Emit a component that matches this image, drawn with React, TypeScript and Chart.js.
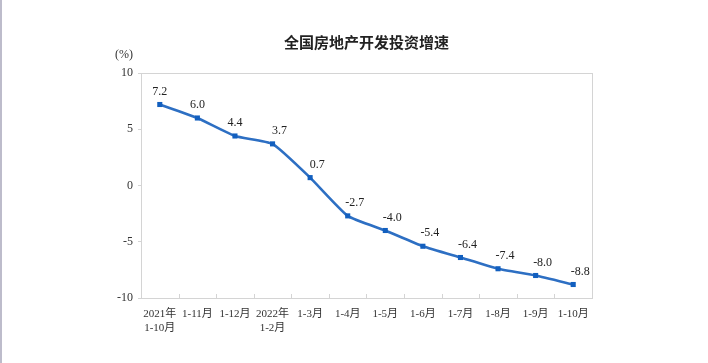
import React, { useEffect, useRef } from "react";
import { Chart, registerables } from "chart.js";

Chart.register(...registerables);

const categories: (string | string[])[] = [
  ["2021年", "1-10月"],
  "1-11月",
  "1-12月",
  ["2022年", "1-2月"],
  "1-3月",
  "1-4月",
  "1-5月",
  "1-6月",
  "1-7月",
  "1-8月",
  "1-9月",
  "1-10月",
];
const growth: number[] = [7.2, 6.0, 4.4, 3.7, 0.7, -2.7, -4.0, -5.4, -6.4, -7.4, -8.0, -8.8];
const yTicks: number[] = [-10, -5, 0, 5, 10];

const SERIF = '"Liberation Serif", "Times New Roman", "Noto Sans CJK SC", serif';
const AXIS_GREY = "#d4d4d4";

const decorPlugin = {
  id: "decor",
  beforeDatasetsDraw(chart: any) {
    const { ctx, chartArea } = chart;
    const { left, right, top, bottom } = chartArea;
    ctx.save();
    ctx.strokeStyle = AXIS_GREY;
    ctx.lineWidth = 1;
    ctx.strokeRect(Math.round(left) + 0.5, Math.round(top) + 0.5, Math.round(right - left), Math.round(bottom - top));
    // inward tick marks at category boundaries
    const xs = chart.scales.x;
    const n = categories.length;
    const w = xs.getPixelForValue(1) - xs.getPixelForValue(0);
    for (let i = 1; i < n; i++) {
      const px = Math.round(xs.getPixelForValue(i) - w / 2) + 0.5;
      ctx.beginPath();
      ctx.moveTo(px, bottom);
      ctx.lineTo(px, bottom - 4);
      ctx.stroke();
    }
    // unit label
    ctx.fillStyle = "#333";
    ctx.font = `12px ${SERIF}`;
    ctx.textAlign = "right";
    ctx.textBaseline = "middle";
    ctx.fillText("(%)", left - 8, top - 18);
    ctx.restore();
  },
  afterDatasetsDraw(chart: any) {
    const { ctx } = chart;
    const meta = chart.getDatasetMeta(0);
    ctx.save();
    ctx.fillStyle = "#222";
    ctx.font = `12px ${SERIF}`;
    ctx.textAlign = "center";
    ctx.textBaseline = "middle";
    meta.data.forEach((pt: any, i: number) => {
      const dx = i < 3 ? 0 : 7;
      ctx.fillText(growth[i].toFixed(1), pt.x + dx, pt.y - 13);
    });
    ctx.restore();
  },
};

export default function App() {
  const ref = useRef<HTMLCanvasElement | null>(null);
  useEffect(() => {
    document.body.style.margin = "0";
    if (!ref.current) return;
    const chart = new Chart(ref.current, {
      type: "line",
      data: {
        labels: categories,
        datasets: [
          {
            data: growth,
            borderColor: "#2d6fc3",
            borderWidth: 2.6,
            pointStyle: "rect",
            pointRadius: 3.6,
            pointBackgroundColor: "#125fbf",
            pointBorderColor: "#125fbf",
            pointBorderWidth: 0,
            tension: 0.15,
          },
        ],
      },
      options: {
        responsive: false,
        animation: false,
        layout: { padding: { left: 0, right: 116, top: 0, bottom: 0 } },
        plugins: {
          legend: { display: false },
          tooltip: { enabled: false },
          title: {
            display: true,
            text: "全国房地产开发投资增速",
            fullSize: false,
            color: "#222",
            font: { family: '"Noto Sans CJK SC", sans-serif', size: 15, weight: "bold", lineHeight: 1.2 },
            padding: { top: 33, bottom: 22 },
          },
        },
        scales: {
          x: {
            type: "category",
            offset: true,
            afterFit: (s: any) => {
              s.height = 65;
            },
            grid: { display: false, drawTicks: false },
            border: { display: true, color: AXIS_GREY },
            ticks: {
              color: "#333",
              padding: 9,
              autoSkip: false,
              maxRotation: 0,
              font: { family: SERIF, size: 11, lineHeight: 1.25 },
            },
          },
          y: {
            min: -10,
            max: 10,
            afterFit: (s: any) => {
              s.width = 141;
            },
            afterBuildTicks: (s: any) => {
              s.ticks = yTicks.map((v) => ({ value: v }));
            },
            grid: { drawOnChartArea: false, drawTicks: true, tickLength: 3, color: AXIS_GREY },
            border: { display: true, color: AXIS_GREY },
            ticks: {
              color: "#333",
              padding: 5,
              font: { family: SERIF, size: 12 },
            },
          },
        },
      },
      plugins: [decorPlugin],
    });
    return () => chart.destroy();
  }, []);
  return (
    <div style={{ position: "relative", width: 708, height: 363, background: "#fff" }}>
      <div style={{ position: "absolute", left: 0, top: 0, width: 2, height: 363, background: "#bdbccb" }} />
      <canvas ref={ref} width={708} height={363} style={{ display: "block" }} />
    </div>
  );
}
